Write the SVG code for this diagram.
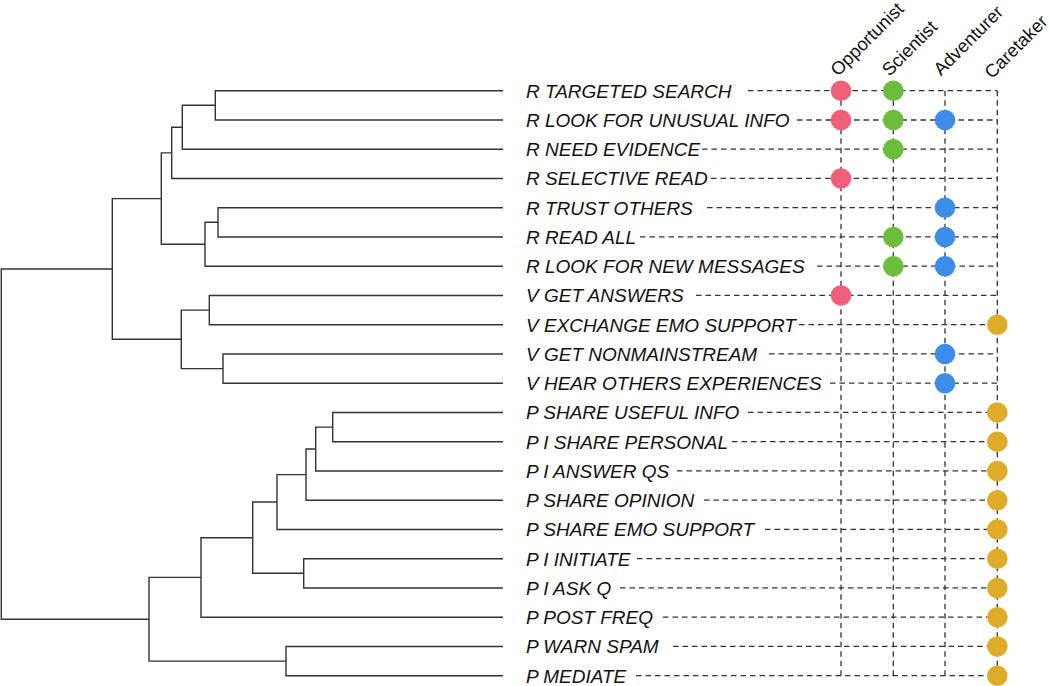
<svg xmlns="http://www.w3.org/2000/svg" width="1050" height="686" viewBox="0 0 1050 686">
<style>
.tree{fill:none;stroke:#333;stroke-width:1.4}
.dash{fill:none;stroke:#333;stroke-width:1.3;stroke-dasharray:5.5 4}
.lbl{font-family:"Liberation Sans",Arial,sans-serif;font-style:italic;font-size:19px;fill:#111}
.hdr{font-family:"Liberation Sans",Arial,sans-serif;font-size:18.3px;fill:#111}
.o{fill:#EF5F78}.s{fill:#6CBD3C}.a{fill:#3B8DE9}.c{fill:#DFAC2A}
</style>
<rect width="1050" height="686" fill="#fff"/>
<g id="connectors">
<path class="tree" d="M112.3 269 H1.3 V619.3 H149
M161.3 198.6 H112.3 V339.3 H181.3
M171.7 152.9 H161.3 V244.3 H205
M182.3 127.3 H171.7 V178.45 H503
M215.3 105.3 H182.3 V149.2 H503
M503 90.7 H215.3 V120 H503
M218 222.3 H205 V266.2 H503
M503 207.7 H218 V236.95 H503
M209.3 310.1 H181.3 V368.6 H223
M503 295.45 H209.3 V324.7 H503
M503 353.95 H223 V383.2 H503
M201 577.4 H149 V661.1 H286
M252.7 537.7 H201 V617.2 H503
M277 502 H252.7 V573.3 H303.7
M306 474.6 H277 V529.45 H503
M315.7 449 H306 V500.2 H503
M332.7 427.1 H315.7 V470.95 H503
M503 412.45 H332.7 V441.7 H503
M503 558.7 H303.7 V587.95 H503
M503 646.45 H286 V675.7 H503"/>
<path class="dash" d="M841 90.7 V675.7 M893.3 90.7 V675.7 M945 90.7 V675.7 M997.3 90.7 V675.7"/>
<path class="dash" d="M748 90.7 H997.3
M797 120 H997.3
M702 149.2 H997.3
M711 178.45 H997.3
M707 207.7 H997.3
M640 236.95 H997.3
M817 266.2 H997.3
M696 295.45 H997.3
M799 324.7 H997.3
M769 353.95 H997.3
M830 383.2 H997.3
M748 412.45 H997.3
M732 441.7 H997.3
M677 470.95 H997.3
M704 500.2 H997.3
M765 529.45 H997.3
M637 558.7 H997.3
M620 587.95 H997.3
M663 617.2 H997.3
M673 646.45 H997.3
M636 675.7 H997.3"/>
</g>
<g id="headers">
<text class="hdr" transform="translate(838,77) rotate(-45)">Opportunist</text>
<text class="hdr" transform="translate(889.5,77) rotate(-45)">Scientist</text>
<text class="hdr" transform="translate(941,76.5) rotate(-45)">Adventurer</text>
<text class="hdr" transform="translate(992,79.5) rotate(-45)">Caretaker</text>
</g>
<g id="row-r-targeted-search"><text class="lbl" x="526" y="97.5">R TARGETED SEARCH</text><circle class="o" cx="841" cy="90.7" r="10.3"/><circle class="s" cx="893.3" cy="90.7" r="10.3"/></g>
<g id="row-r-look-for-unusual-info"><text class="lbl" x="526" y="126.8">R LOOK FOR UNUSUAL INFO</text><circle class="o" cx="841" cy="120" r="10.3"/><circle class="s" cx="893.3" cy="120" r="10.3"/><circle class="a" cx="945" cy="120" r="10.3"/></g>
<g id="row-r-need-evidence"><text class="lbl" x="526" y="156">R NEED EVIDENCE</text><circle class="s" cx="893.3" cy="149.2" r="10.3"/></g>
<g id="row-r-selective-read"><text class="lbl" x="526" y="185.25">R SELECTIVE READ</text><circle class="o" cx="841" cy="178.45" r="10.3"/></g>
<g id="row-r-trust-others"><text class="lbl" x="526" y="214.5">R TRUST OTHERS</text><circle class="a" cx="945" cy="207.7" r="10.3"/></g>
<g id="row-r-read-all"><text class="lbl" x="526" y="243.75">R READ ALL</text><circle class="s" cx="893.3" cy="236.95" r="10.3"/><circle class="a" cx="945" cy="236.95" r="10.3"/></g>
<g id="row-r-look-for-new-messages"><text class="lbl" x="526" y="273">R LOOK FOR NEW MESSAGES</text><circle class="s" cx="893.3" cy="266.2" r="10.3"/><circle class="a" cx="945" cy="266.2" r="10.3"/></g>
<g id="row-v-get-answers"><text class="lbl" x="526" y="302.25">V GET ANSWERS</text><circle class="o" cx="841" cy="295.45" r="10.3"/></g>
<g id="row-v-exchange-emo-support"><text class="lbl" x="526" y="331.5">V EXCHANGE EMO SUPPORT</text><circle class="c" cx="997.3" cy="324.7" r="10.3"/></g>
<g id="row-v-get-nonmainstream"><text class="lbl" x="526" y="360.75">V GET NONMAINSTREAM</text><circle class="a" cx="945" cy="353.95" r="10.3"/></g>
<g id="row-v-hear-others-experiences"><text class="lbl" x="526" y="390">V HEAR OTHERS EXPERIENCES</text><circle class="a" cx="945" cy="383.2" r="10.3"/></g>
<g id="row-p-share-useful-info"><text class="lbl" x="526" y="419.25">P SHARE USEFUL INFO</text><circle class="c" cx="997.3" cy="412.45" r="10.3"/></g>
<g id="row-p-i-share-personal"><text class="lbl" x="526" y="448.5">P I SHARE PERSONAL</text><circle class="c" cx="997.3" cy="441.7" r="10.3"/></g>
<g id="row-p-i-answer-qs"><text class="lbl" x="526" y="477.75">P I ANSWER QS</text><circle class="c" cx="997.3" cy="470.95" r="10.3"/></g>
<g id="row-p-share-opinion"><text class="lbl" x="526" y="507">P SHARE OPINION</text><circle class="c" cx="997.3" cy="500.2" r="10.3"/></g>
<g id="row-p-share-emo-support"><text class="lbl" x="526" y="536.25">P SHARE EMO SUPPORT</text><circle class="c" cx="997.3" cy="529.45" r="10.3"/></g>
<g id="row-p-i-initiate"><text class="lbl" x="526" y="565.5">P I INITIATE</text><circle class="c" cx="997.3" cy="558.7" r="10.3"/></g>
<g id="row-p-i-ask-q"><text class="lbl" x="526" y="594.75">P I ASK Q</text><circle class="c" cx="997.3" cy="587.95" r="10.3"/></g>
<g id="row-p-post-freq"><text class="lbl" x="526" y="624">P POST FREQ</text><circle class="c" cx="997.3" cy="617.2" r="10.3"/></g>
<g id="row-p-warn-spam"><text class="lbl" x="526" y="653.25">P WARN SPAM</text><circle class="c" cx="997.3" cy="646.45" r="10.3"/></g>
<g id="row-p-mediate"><text class="lbl" x="526" y="682.5">P MEDIATE</text><circle class="c" cx="997.3" cy="675.7" r="10.3"/></g>
</svg>
